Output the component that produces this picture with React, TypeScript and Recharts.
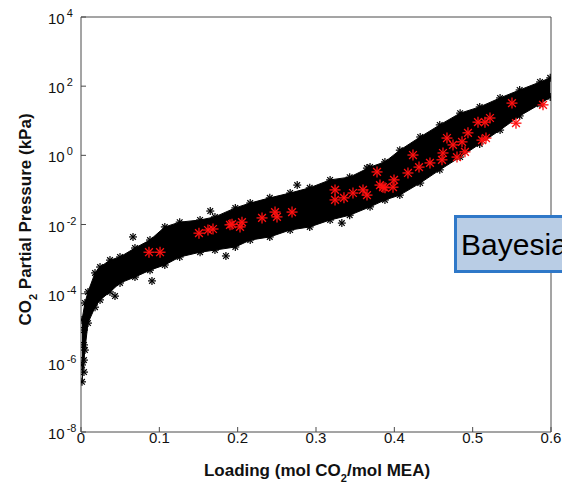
import React from "react";
import { ComposedChart, XAxis, YAxis, Area, Scatter, Label } from "recharts";

// Envelope of the dense black point cloud (loading, kPa)
const bandX = [0.0013, 0.005, 0.0089, 0.0179, 0.0243, 0.037, 0.0498, 0.0689, 0.0881, 0.107, 0.126, 0.152, 0.171, 0.197, 0.216, 0.241, 0.267, 0.292, 0.318, 0.343, 0.369, 0.388, 0.407, 0.433, 0.458, 0.484, 0.509, 0.535, 0.56, 0.586, 0.599];
const bandHigh = [1.74e-5, 5.37e-5, 1.12e-4, 3.98e-4, 5.89e-4, 9.33e-4, 1.15e-3, 2.09e-3, 3.55e-3, 8.51e-3, 1.17e-2, 1.35e-2, 1.66e-2, 3.02e-2, 4.17e-2, 5.89e-2, 8.13e-2, 0.115, 0.195, 0.234, 0.457, 0.646, 1.41, 3.39, 7.59, 16.6, 25.1, 45.7, 77.6, 132, 174];
const bandLow = [2.82e-7, 2.34e-6, 1.41e-5, 4.07e-5, 6.61e-5, 1.12e-4, 2.04e-4, 3.02e-4, 4.79e-4, 6.76e-4, 1.15e-3, 1.58e-3, 1.82e-3, 2.24e-3, 3.55e-3, 4.37e-3, 6.92e-3, 8.51e-3, 1.35e-2, 1.86e-2, 3.24e-2, 5.13e-2, 7.08e-2, 0.158, 0.38, 0.891, 2.14, 5.37, 13.8, 30.2, 49.0];

// Isolated black points (incl. the low-loading column near x = 0)
const outlierX = [0.0664, 0.0906, 0.165, 0.185, 0.0434, 0.276, 0.365, 0.333, 0.0038, 0.0038, 0.0038, 0.0038, 0.0013];
const outlierY = [4.37e-3, 2.34e-4, 2.45e-2, 1.23e-3, 8.51e-5, 0.138, 0.427, 1.1e-2, 8.9e-6, 3.3e-6, 1.2e-6, 5.4e-7, 8.7e-7];

// Red points
const redX = [0.0868, 0.1009, 0.1506, 0.1621, 0.1685, 0.1902, 0.1928, 0.2055, 0.203, 0.2311, 0.2477, 0.2502, 0.2694, 0.3243, 0.3243, 0.3357, 0.3472, 0.36, 0.3651, 0.3779, 0.3817, 0.3881, 0.3855, 0.3996, 0.3983, 0.4174, 0.4238, 0.4315, 0.4455, 0.4608, 0.4621, 0.4672, 0.4749, 0.48, 0.4864, 0.494, 0.4902, 0.5119, 0.517, 0.5068, 0.5157, 0.5221, 0.5502, 0.5553, 0.5898];
const redY = [1.58e-3, 1.58e-3, 5.62e-3, 6.92e-3, 7.41e-3, 9.77e-3, 1.02e-2, 1.17e-2, 8.51e-3, 1.55e-2, 2.29e-2, 1.66e-2, 2.29e-2, 0.1, 5.13e-2, 5.89e-2, 8.13e-2, 0.1, 7.08e-2, 0.331, 0.138, 0.115, 0.12, 0.195, 0.12, 0.309, 1.02, 0.457, 0.603, 0.741, 1.17, 3.16, 2.0, 0.891, 2.45, 4.47, 1.26, 2.75, 3.16, 9.12, 9.12, 12.0, 32.4, 8.51, 28.8];

const xTicks = [0, 0.1, 0.2, 0.3, 0.4, 0.5, 0.6];
const xTickLabels = ["0", "0.1", "0.2", "0.3", "0.4", "0.5", "0.6"];
const yTicks = [1e-8, 1e-6, 1e-4, 1e-2, 1, 1e2, 1e4];
const yExponents = ["-8", "-6", "-4", "-2", "0", "2", "4"];

const FONT = "'Liberation Sans', Arial, Helvetica, sans-serif";
const AXIS = "#4a4a4a";

const bandData = bandX.map((x, i) => ({ x, range: [bandLow[i], bandHigh[i]] }));
const edgeData = [
  ...bandX.map((x, i) => ({ x, y: bandHigh[i] })),
  ...bandX.map((x, i) => ({ x, y: bandLow[i] })),
  ...outlierX.map((x, i) => ({ x, y: outlierY[i] })),
];
const redData = redX.map((x, i) => ({ x, y: redY[i] }));

const makeStar = (color: string, r: number, sw: number) => (props: any) => {
  const { cx, cy } = props;
  if (cx == null || cy == null) return <g />;
  const d = r * 0.707;
  return (
    <g stroke={color} strokeWidth={sw} strokeLinecap="butt">
      <line x1={cx - r} y1={cy} x2={cx + r} y2={cy} />
      <line x1={cx} y1={cy - r} x2={cx} y2={cy + r} />
      <line x1={cx - d} y1={cy - d} x2={cx + d} y2={cy + d} />
      <line x1={cx - d} y1={cy + d} x2={cx + d} y2={cy - d} />
    </g>
  );
};
const BlackStar = makeStar("#000000", 4, 1.2);
const RedStar = makeStar("#ff1010", 5.5, 1.3);

const XTick = (props: any) => {
  const { x, y, payload } = props;
  const idx = xTicks.indexOf(payload.value);
  return (
    <text x={x} y={y} textAnchor="middle" fontFamily={FONT} fontSize={15} fill="#111">
      {idx >= 0 ? xTickLabels[idx] : payload.value}
    </text>
  );
};

const YTick = (props: any) => {
  const { x, y, payload } = props;
  const idx = yTicks.indexOf(payload.value);
  return (
    <text x={x} y={y + 7} textAnchor="start" fontFamily={FONT} fontSize={15} fill="#111">
      10
      <tspan dx={2} dy={-7} fontSize={11}>
        {idx >= 0 ? yExponents[idx] : ""}
      </tspan>
    </text>
  );
};

const XTitle = (props: any) => {
  const vb = props.viewBox || {};
  const cx = vb.x + vb.width / 2 + 1;
  const y = vb.y + 44;
  return (
    <text x={cx} y={y} textAnchor="middle" fontFamily={FONT} fontSize={17} fontWeight="bold" fill="#111">
      Loading (mol CO
      <tspan dy={6} fontSize={11}>2</tspan>
      <tspan dy={-6}>/mol MEA)</tspan>
    </text>
  );
};

const YTitle = (props: any) => {
  const vb = props.viewBox || {};
  const cx = vb.x + 31;
  const cy = vb.y + vb.height / 2 - 5;
  return (
    <text
      x={cx}
      y={cy}
      transform={`rotate(-90 ${cx} ${cy})`}
      textAnchor="middle"
      fontFamily={FONT}
      fontSize={17}
      fontWeight="bold"
      fill="#111"
    >
      CO
      <tspan dy={6} fontSize={11}>2</tspan>
      <tspan dy={-6}> Partial Pressure (kPa)</tspan>
    </text>
  );
};

export default function App() {
  return (
    <div style={{ position: "absolute", left: 0, top: 0, width: 562, height: 483, overflow: "hidden", background: "#fff" }}>
      <ComposedChart width={562} height={483} data={bandData} margin={{ top: 16, right: 10, bottom: 0, left: 0 }}>
        <XAxis
          dataKey="x"
          type="number"
          domain={[0, 0.6]}
          ticks={xTicks}
          allowDataOverflow
          height={51}
          stroke={AXIS}
          tickSize={-5}
          tickMargin={16}
          tick={<XTick />}
          interval={0}
        >
          <Label content={<XTitle />} />
        </XAxis>
        <XAxis
          xAxisId="top"
          orientation="top"
          type="number"
          domain={[0, 0.6]}
          ticks={xTicks}
          allowDataOverflow
          height={1}
          stroke={AXIS}
          tickSize={-5}
          tick={false}
          interval={0}
        />
        <YAxis
          type="number"
          scale="log"
          domain={[1e-8, 1e4]}
          ticks={yTicks}
          allowDataOverflow
          width={81}
          stroke={AXIS}
          tickSize={-5}
          tickMargin={38}
          tick={<YTick />}
          interval={0}
        >
          <Label content={<YTitle />} />
        </YAxis>
        <YAxis
          yAxisId="right"
          orientation="right"
          type="number"
          scale="log"
          domain={[1e-8, 1e4]}
          ticks={yTicks}
          allowDataOverflow
          width={1}
          stroke={AXIS}
          tickSize={-5}
          tick={false}
          interval={0}
        />
        <Area
          dataKey="range"
          type="linear"
          stroke="#000"
          strokeWidth={1}
          fill="#000"
          fillOpacity={1}
          isAnimationActive={false}
          dot={false}
          activeDot={false}
        />
        <Scatter data={edgeData} dataKey="y" shape={BlackStar} isAnimationActive={false} />
        <Scatter data={redData} dataKey="y" shape={RedStar} isAnimationActive={false} />
      </ComposedChart>
      <svg width={562} height={483} style={{ position: "absolute", left: 0, top: 0, pointerEvents: "none" }}>
        <rect x={455.5} y={216.5} width={120} height={55} fill="#b9cde5" stroke="#2f78c8" strokeWidth={3} />
        <text x={461} y={255} fontFamily={FONT} fontSize={30} fill="#000">
          Bayesian
        </text>
      </svg>
    </div>
  );
}
